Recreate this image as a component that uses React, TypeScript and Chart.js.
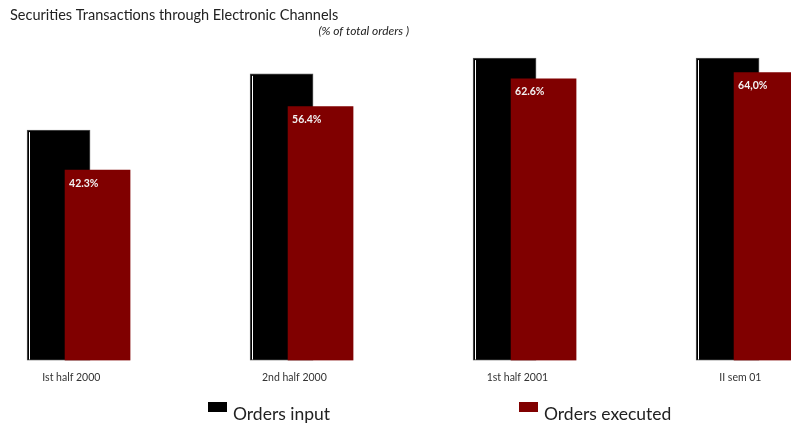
import React, { useEffect, useRef } from "react";
import { Chart, registerables } from "chart.js";
Chart.register(...registerables);

const categories = ["Ist half 2000", "2nd half 2000", "1st half 2001", "II sem 01"];
const ordersInput = [51.2, 63.7, 67.2, 67.2];
const ordersExecuted = [42.3, 56.4, 62.6, 64.0];
const executedLabels = ["42.3%", "56.4%", "62.6%", "64,0%"];
const seriesNames = ["Orders input", "Orders executed"];
const seriesColors = ["#000000", "#800000"];
const titleText = "Securities Transactions through Electronic Channels";
const subtitleText = "(% of total orders )";

const FONT = "Lato, 'Open Sans', sans-serif";

export default function App() {
  const ref = useRef<HTMLCanvasElement | null>(null);

  useEffect(() => {
    if (!ref.current) return;
    const shift = 0.0874;
    const labelShift = -0.03;

    const decor = {
      id: "decor",
      afterDatasetsDraw(chart: any) {
        const ctx = chart.ctx;
        ctx.save();
        const m0 = chart.getDatasetMeta(0);
        m0.data.forEach((el: any) => {
          const { x, y, base, width } = el.getProps(["x", "y", "base", "width"], true);
          const l = x - width / 2;
          ctx.strokeStyle = "#ffffff";
          ctx.lineWidth = 1;
          ctx.beginPath();
          ctx.moveTo(Math.round(l + 1.5) + 0.5, y + 2);
          ctx.lineTo(Math.round(l + 1.5) + 0.5, base - 1);
          ctx.stroke();
        });
        const m1 = chart.getDatasetMeta(1);
        ctx.fillStyle = "#f2f2f2";
        ctx.font = `bold 10.5px ${FONT}`;
        ctx.textAlign = "left";
        ctx.textBaseline = "middle";
        m1.data.forEach((el: any, i: number) => {
          const { x, y, width } = el.getProps(["x", "y", "width"], true);
          ctx.fillText(executedLabels[i], x - width / 2 + 4, y + 13);
        });
        ctx.restore();
      },
      afterDraw(chart: any) {
        const ctx = chart.ctx;
        ctx.save();
        ctx.fillStyle = "#222";
        ctx.textBaseline = "alphabetic";
        ctx.textAlign = "left";
        ctx.font = `14.5px ${FONT}`;
        ctx.fillText(titleText, 10, 19.5);
        ctx.textAlign = "right";
        ctx.font = `italic 12px ${FONT}`;
        ctx.fillText(subtitleText, 409, 35);
        const lx = [208, 519];
        chart.data.datasets.forEach((ds: any, i: number) => {
          ctx.fillStyle = ds.backgroundColor;
          ctx.fillRect(lx[i], 402, 19, 10);
          ctx.fillStyle = "#222";
          ctx.textAlign = "left";
          ctx.font = `17.5px ${FONT}`;
          ctx.fillText(ds.label, lx[i] + 25, 420);
        });
        ctx.restore();
      },
    };

    const chart = new Chart(ref.current, {
      type: "bar",
      data: {
        datasets: [
          {
            label: seriesNames[0],
            data: ordersInput.map((v, i) => ({ x: i - shift, y: v })),
            backgroundColor: seriesColors[0],
            borderColor: "#555",
            borderWidth: 1,
            borderSkipped: false,
            barThickness: 63,
            grouped: false,
            order: 2,
          } as any,
          {
            label: seriesNames[1],
            data: ordersExecuted.map((v, i) => ({ x: i + shift, y: v })),
            backgroundColor: seriesColors[1],
            borderWidth: 0,
            barThickness: 65,
            grouped: false,
            order: 1,
          } as any,
        ],
      },
      options: {
        responsive: false,
        animation: false,
        layout: { padding: { top: 45.5, left: 0, right: 0, bottom: 0 } },
        plugins: {
          legend: { display: false },
          tooltip: { enabled: false },
          title: { display: false },
        },
        scales: {
          x: {
            type: "linear",
            offset: false,
            min: -0.35,
            max: 3.197,
            grid: { display: false, drawTicks: false, offset: false },
            border: { display: false },
            afterBuildTicks: (s: any) => {
              s.ticks = categories.map((_, i) => ({ value: i + labelShift }));
            },
            afterFit: (s: any) => {
              s.height = 62.5;
            },
            ticks: {
              autoSkip: false,
              maxRotation: 0,
              padding: 11,
              color: "#333",
              font: { family: FONT, size: 10.5 },
              callback: (v: any) => categories[Math.round(v)] ?? "",
            },
          },
          y: { display: false, min: 0, max: 70 },
        },
      },
      plugins: [decor],
    });
    return () => chart.destroy();
  }, []);

  return (
    <div style={{ position: "fixed", left: 0, top: 0, width: 791, height: 423, background: "#fff" }}>
      <canvas ref={ref} width={791} height={423} />
    </div>
  );
}
